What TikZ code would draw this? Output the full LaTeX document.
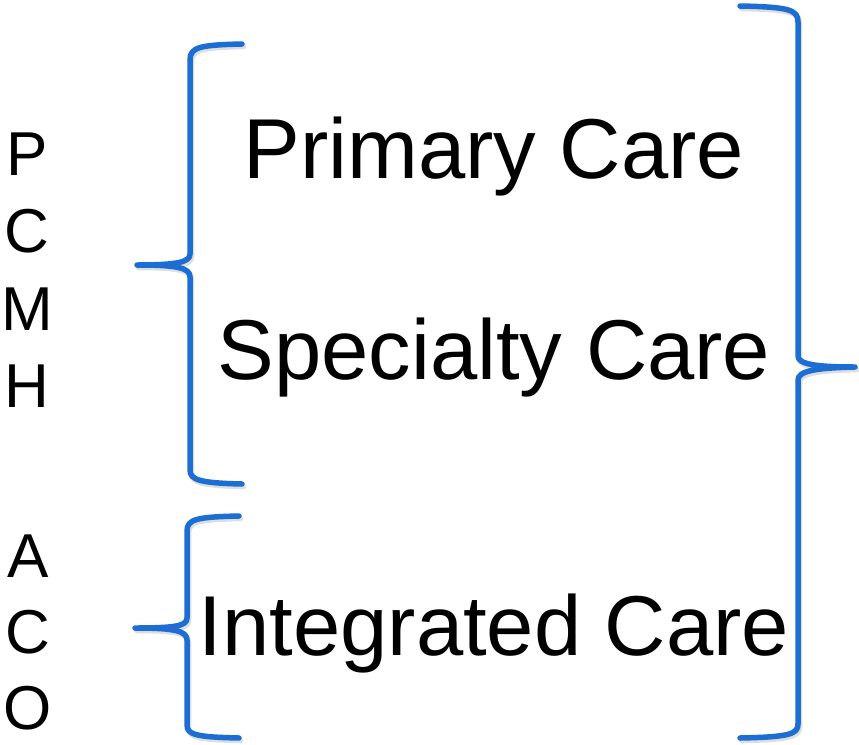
\documentclass[tikz,border=0pt]{standalone}
\usepackage{fontspec}
\setmainfont{Liberation Sans}
\definecolor{braceblue}{RGB}{28,110,212}
\begin{document}
\begin{tikzpicture}[x=1pt,y=-1pt,
  bigtext/.style={inner sep=0pt,anchor=base,font=\fontsize{85}{100}\selectfont},
  sidetext/.style={inner sep=0pt,anchor=base,font=\fontsize{62}{77}\selectfont},
  bracepath/.style={draw=braceblue,line width=5.5pt,line cap=round,line join=round},
  braceshadow/.style={draw=black!25,line width=5.5pt,line cap=round,line join=round,opacity=0.5}]
\useasboundingbox[fill=white] (0,0) rectangle (859,744);

% shadows
\begin{scope}[shift={(1.5,2.5)}]
\path[braceshadow] (242,44) .. controls (200,45) and (190,47) .. (190,60) -- (190,254)
  .. controls (190,262) and (178,265) .. (137,265)
  .. controls (178,265) and (190,268) .. (190,277) -- (190,470)
  .. controls (190,480) and (200,483) .. (242,484);
\path[braceshadow] (239,516) .. controls (197,517) and (187,519) .. (187,531) -- (187,618)
  .. controls (187,626) and (175,628) .. (135,628)
  .. controls (175,628) and (187,631) .. (187,640) -- (187,725)
  .. controls (187,735) and (197,737) .. (239,738);
\path[braceshadow] (740,6) .. controls (790,7) and (798,10) .. (798,22) -- (798,356)
  .. controls (798,364) and (815,367) .. (855,367)
  .. controls (815,368) and (798,371) .. (798,380) -- (798,724)
  .. controls (798,734) and (790,737) .. (740,738);
\end{scope}

% braces
\path[bracepath] (242,44) .. controls (200,45) and (190,47) .. (190,60) -- (190,254)
  .. controls (190,262) and (178,265) .. (137,265)
  .. controls (178,265) and (190,268) .. (190,277) -- (190,470)
  .. controls (190,480) and (200,483) .. (242,484);
\path[bracepath] (239,516) .. controls (197,517) and (187,519) .. (187,531) -- (187,618)
  .. controls (187,626) and (175,628) .. (135,628)
  .. controls (175,628) and (187,631) .. (187,640) -- (187,725)
  .. controls (187,735) and (197,737) .. (239,738);
\path[bracepath] (740,6) .. controls (790,7) and (798,10) .. (798,22) -- (798,356)
  .. controls (798,364) and (815,367) .. (855,367)
  .. controls (815,368) and (798,371) .. (798,380) -- (798,724)
  .. controls (798,734) and (790,737) .. (740,738);

% main texts
\node[bigtext] (primary) at (494,178) {Primary Care};
\node[bigtext] (specialty) at (494,379) {Specialty Care};
\node[bigtext] (integrated) at (494,655) {Integrated Care};

% side letters
\node[sidetext] (p) at (27,175) {P};
\node[sidetext] (c1) at (27,252) {C};
\node[sidetext] (m) at (27,330) {M};
\node[sidetext] (h) at (27,407) {H};
\node[sidetext] (a) at (28,577) {A};
\node[sidetext] (c2) at (28,653) {C};
\node[sidetext] (o) at (28,729) {O};
\end{tikzpicture}
\end{document}
